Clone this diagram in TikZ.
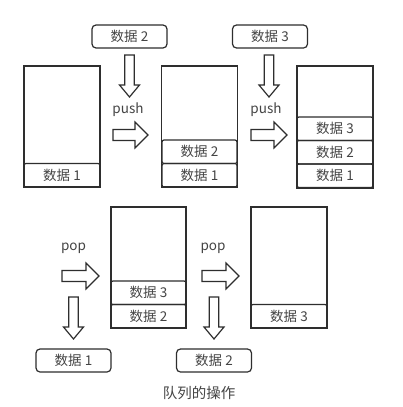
\documentclass[tikz,border=0pt]{standalone}
\usepackage{fontspec}
\setmainfont{Noto Sans CJK SC}
\definecolor{linec}{HTML}{2E2E2E}
\definecolor{textc}{HTML}{444444}
\newcommand\rarrowshape[3]{% x0 x1 yc
  \draw[blockarrow] (#1,#3-5.5) -- (#2-13,#3-5.5) -- (#2-13,#3-13) -- (#2,#3) -- (#2-13,#3+13) -- (#2-13,#3+5.5) -- (#1,#3+5.5) -- cycle;}
\newcommand\darrowshape[3]{% xc y0 y1
  \draw[blockarrow] (#1-4.7,#2) -- (#1+4.7,#2) -- (#1+4.7,#3-12) -- (#1+10,#3-12) -- (#1,#3) -- (#1-10,#3-12) -- (#1-4.7,#3-12) -- cycle;}
\begin{document}
\begin{tikzpicture}[x=1pt,y=-1pt,
  container/.style={draw=linec, line width=1.4pt, minimum width=76pt, minimum height=121pt, inner sep=0pt},
  cell/.style={draw=linec, line width=1.2pt, rounded corners=2pt, minimum width=76pt, minimum height=23.5pt, inner sep=0pt, text=textc, font=\fontsize{13.5}{13.5}\selectfont},
  tag/.style={cell, rounded corners=4pt, minimum width=75pt, minimum height=23pt},
  lbl/.style={text=textc, inner sep=0pt, font=\fontsize{13.5}{13.5}\selectfont},
  blockarrow/.style={draw=linec, line width=1.2pt, fill=white, line join=miter}]
\useasboundingbox[fill=white] (0,0) rectangle (402,407);
% top row
\node[container] (c1) at (62,126.5) {};
\node[cell] (c1d1) at (62,175.25) {数据 1};
\node[tag] (t2) at (129.5,36.5) {数据 2};
\darrowshape{129.5}{55}{97}
\node[lbl] (push1) at (128,110) {push};
\rarrowshape{113}{148}{135}
\node[container] (c2) at (199.5,126.5) {};
\node[cell, minimum width=75pt] (c2d2) at (199.5,151.75) {数据 2};
\node[cell, minimum width=75pt] (c2d1) at (199.5,175.25) {数据 1};
\node[tag] (t3) at (270,36.5) {数据 3};
\darrowshape{269}{55}{97}
\node[lbl] (push2) at (266,110) {push};
\rarrowshape{251}{287}{135}
\node[container, minimum height=122pt] (c3) at (335,127) {};
\node[cell] (c3d3) at (335,128.75) {数据 3};
\node[cell] (c3d2) at (335,152.25) {数据 2};
\node[cell] (c3d1) at (335,175.75) {数据 1};
% bottom row
\node[lbl] (pop1) at (73.5,248) {pop};
\rarrowshape{62}{99}{276}
\darrowshape{73.5}{297}{339}
\node[tag] (b1) at (73.5,360.5) {数据 1};
\node[container, minimum width=75pt] (c4) at (148.5,267.5) {};
\node[cell, minimum width=75pt] (c4d3) at (148.5,292.75) {数据 3};
\node[cell, minimum width=75pt] (c4d2) at (148.5,316.25) {数据 2};
\node[lbl] (pop2) at (213,248) {pop};
\rarrowshape{202}{239}{276}
\darrowshape{214}{297}{339}
\node[tag] (b2) at (214,360.5) {数据 2};
\node[container] (c5) at (289,267.5) {};
\node[cell] (c5d3) at (289,316.25) {数据 3};
\node[lbl, font=\fontsize{14.5}{14.5}\selectfont] (cap) at (199,393) {队列的操作};
\end{tikzpicture}
\end{document}
